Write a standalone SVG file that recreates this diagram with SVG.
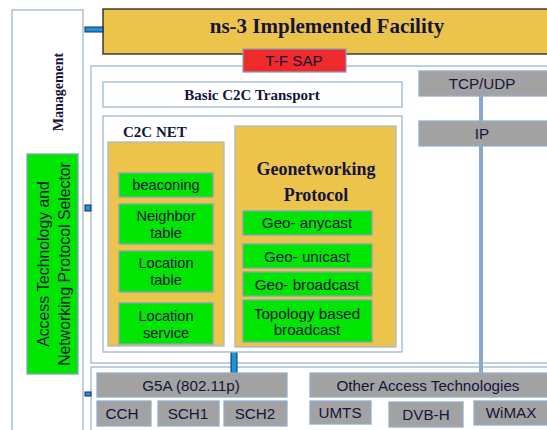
<svg xmlns="http://www.w3.org/2000/svg" width="547" height="430" viewBox="0 0 547 430">
<style>
.frame{fill:#fff;stroke:#9fb6d3;stroke-width:1.3}
.yel{fill:#ecc44c;stroke:#a9b9cc;stroke-width:1.3}
.grn{fill:#00e600;stroke:#7fa6c0;stroke-width:1.3}
.gry{fill:#a2a2a2;stroke:#93aecd;stroke-width:1.3}
.blu{fill:#1b93e0;stroke:#1a2a50;stroke-width:1}
.s{font-family:"Liberation Sans",Arial,sans-serif;font-size:14.6px;fill:#14143c;text-anchor:middle}
.g{font-size:15.2px}
.b{font-family:"Liberation Serif","Times New Roman",serif;font-weight:bold;fill:#14143c;text-anchor:middle}
</style>
<rect width="547" height="430" fill="#fff"/>
<g id="management">
<rect class="frame" x="12" y="10" width="71" height="430"/>
<text class="b" font-size="14" transform="translate(63,92) rotate(-90)">Management</text>
</g>
<g id="selector">
<rect class="grn" x="27" y="154" width="51" height="220"/>
<text class="s" style="font-size:15.8px" transform="translate(49,264) rotate(-90)">Access Technology and</text>
<text class="s" style="font-size:15.8px" transform="translate(70,264) rotate(-90)">Networking Protocol Selector</text>
</g>
<g id="netlayer"><rect class="frame" x="91" y="66" width="470" height="297"/></g>
<g id="accesslayer"><rect class="frame" x="91" y="367" width="470" height="80"/></g>
<g id="facility">
<rect x="103" y="9" width="450" height="45" fill="#ecc44c" stroke="#222" stroke-width="1.3"/>
<text class="b" font-size="21" x="327" y="33">ns-3 Implemented Facility</text>
</g>
<g id="tfsap">
<rect x="243" y="49" width="103" height="23" fill="#ee2a2a" stroke="#8e9fbb" stroke-width="1.3"/>
<text class="s g" x="294" y="66">T-F SAP</text>
</g>
<g id="connectors">
<rect class="blu" x="85" y="27" width="18" height="5"/>
<rect class="blu" x="85" y="205" width="6" height="6"/>
<rect class="blu" x="85" y="392" width="6" height="4"/>
<rect class="blu" x="231" y="350" width="6" height="23"/>
<line x1="481" y1="96" x2="481" y2="121" stroke="#8ba7cb" stroke-width="4"/>
<line x1="481" y1="146" x2="481" y2="373" stroke="#8ba7cb" stroke-width="4"/>
</g>
<g id="tcpudp"><rect class="gry" x="419" y="71" width="140" height="25"/><text class="s g" x="482" y="89">TCP/UDP</text></g>
<g id="ip"><rect class="gry" x="419" y="121" width="140" height="25"/><text class="s g" x="482" y="139">IP</text></g>
<g id="basic">
<rect class="frame" x="103" y="82" width="299" height="25"/>
<text class="b" font-size="15" x="252" y="100">Basic C2C Transport</text>
</g>
<g id="c2cnet">
<rect class="frame" x="103" y="116" width="299" height="236"/>
<text class="b" font-size="15" x="123" y="137" style="text-anchor:start">C2C NET</text>
<rect class="yel" x="108" y="142" width="116" height="204"/>
</g>
<g id="beaconing"><rect class="grn" x="119" y="173" width="94" height="24"/><text class="s" x="166" y="190">beaconing</text></g>
<g id="neighbor"><rect class="grn" x="119" y="204" width="94" height="40"/><text class="s" x="166" y="221">Neighbor</text><text class="s" x="166" y="238">table</text></g>
<g id="loctable"><rect class="grn" x="119" y="251" width="94" height="41"/><text class="s" x="166" y="268">Location</text><text class="s" x="166" y="285">table</text></g>
<g id="locservice"><rect class="grn" x="119" y="303" width="94" height="41"/><text class="s" x="166" y="321">Location</text><text class="s" x="166" y="338">service</text></g>
<g id="geonet">
<rect class="yel" x="235" y="126" width="161" height="221"/>
<text class="b" font-size="18" x="316" y="175">Geonetworking</text>
<text class="b" font-size="18" x="316" y="201">Protocol</text>
</g>
<g id="anycast"><rect class="grn" x="243" y="211" width="129" height="24"/><text class="s g" x="307" y="228">Geo- anycast</text></g>
<g id="unicast"><rect class="grn" x="243" y="244" width="129" height="24"/><text class="s g" x="307" y="262">Geo- unicast</text></g>
<g id="broadcast"><rect class="grn" x="243" y="272" width="129" height="24"/><text class="s g" x="307" y="290">Geo- broadcast</text></g>
<g id="topology"><rect class="grn" x="243" y="300" width="129" height="42"/><text class="s g" x="307" y="319">Topology based</text><text class="s g" x="307" y="335">broadcast</text></g>
<g id="g5a"><rect class="gry" x="97" y="373" width="190" height="24"/><text class="s g" x="191" y="391">G5A (802.11p)</text></g>
<g id="cch"><rect class="gry" x="97" y="401" width="54" height="25"/><text class="s g" x="122" y="419">CCH</text></g>
<g id="sch1"><rect class="gry" x="158" y="401" width="61" height="25"/><text class="s g" x="188" y="419">SCH1</text></g>
<g id="sch2"><rect class="gry" x="224" y="401" width="63" height="25"/><text class="s g" x="255" y="419">SCH2</text></g>
<g id="other"><rect class="gry" x="310" y="373" width="249" height="24"/><text class="s g" x="428" y="391">Other Access Technologies</text></g>
<g id="umts"><rect class="gry" x="310" y="401" width="61" height="23"/><text class="s g" x="340" y="418">UMTS</text></g>
<g id="dvbh"><rect class="gry" x="389" y="402" width="74" height="25"/><text class="s g" x="426" y="420">DVB-H</text></g>
<g id="wimax"><rect class="gry" x="474" y="401" width="85" height="24"/><text class="s g" x="511" y="418">WiMAX</text></g>
</svg>
